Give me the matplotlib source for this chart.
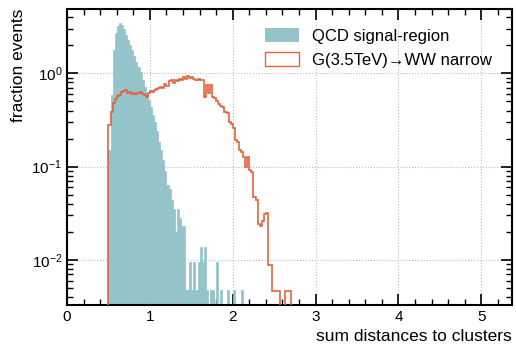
import numpy as np
import matplotlib.pyplot as plt
from matplotlib.patches import Patch

plt.rcParams['font.family'] = ['Liberation Sans', 'DejaVu Sans']
plt.rcParams['mathtext.default'] = 'regular'

# histogram binning (bin width 0.025, starting at 0.5)
bin_width = 0.025

# QCD signal-region, normalised bin contents
qcd_values = [
    0.15, 0.59, 1.8, 2.7, 3.2, 3.46, 3.3, 3.0, 2.6, 2.28,
    2.0, 1.78, 1.54, 1.33, 1.17, 1.04, 0.85, 0.72, 0.62, 0.52,
    0.44, 0.36, 0.30, 0.24, 0.185, 0.152, 0.119, 0.089, 0.063, 0.057,
    0.044, 0.035, 0.020, 0.035, 0.0285, 0.0234, 0.0234, 0.0048, 0.0048, 0.0094,
    0.0048, 0.0094, 0.0048, 0.0094, 0.0139, 0.0094, 0.0139, 0.0048, 0.0, 0.0048,
    0.0048, 0.0, 0.0094, 0.0, 0.0048, 0.0, 0.0, 0.0048, 0.0, 0.0,
    0.0048, 0.0, 0.0, 0.0, 0.0048,
]

# G(3.5TeV) -> WW narrow, normalised bin contents
sig_values = [
    0.28, 0.39, 0.48, 0.53, 0.575, 0.59, 0.63, 0.65, 0.665, 0.62,
    0.63, 0.60, 0.62, 0.60, 0.62, 0.63, 0.60, 0.59, 0.56, 0.62,
    0.65, 0.63, 0.665, 0.68, 0.70, 0.72, 0.70, 0.77, 0.74, 0.83,
    0.85, 0.79, 0.85, 0.83, 0.87, 0.85, 0.92, 0.87, 0.94, 0.90,
    0.92, 0.87, 0.85, 0.87, 0.85, 0.85, 0.56, 0.75, 0.62, 0.75,
    0.56, 0.55, 0.50, 0.47, 0.45, 0.44, 0.39, 0.38, 0.30, 0.29,
    0.26, 0.195, 0.185, 0.152, 0.145, 0.128, 0.10, 0.128, 0.093, 0.088,
    0.047, 0.044, 0.024, 0.023, 0.026, 0.031, 0.032, 0.0089, 0.0089, 0.0046,
    0.0046, 0.0046, 0.0046, 0.0, 0.0, 0.0046, 0.0046, 0.0046,
]

qcd_edges = 0.5 + bin_width * np.arange(len(qcd_values) + 1)
sig_edges = 0.5 + bin_width * np.arange(len(sig_values) + 1)

qcd_color = '#93c4c9'
sig_color = '#e4623c'
floor = 1e-4  # drawn baseline, below the visible y range

fig = plt.figure(figsize=(5.16, 3.48), dpi=100)
ax = fig.add_axes([0.130, 0.124, 0.862, 0.850])

# QCD bins as bars; a thin edge in the face colour closes the gaps
ax.bar(qcd_edges[:-1], np.array(qcd_values) - floor, width=bin_width,
       bottom=floor, align='edge', color=qcd_color, edgecolor=qcd_color,
       lw=0.5, zorder=2)
ax.stairs(np.maximum(sig_values, floor), sig_edges, baseline=floor,
          color=sig_color, lw=1.2, zorder=3)

ax.set_yscale('log')
ax.set_xlim(0, 5.37)
ax.set_ylim(3.3e-3, 4.9)

ax.set_xlabel('sum distances to clusters', fontsize=12.5, loc='right')
ax.set_ylabel('fraction events', fontsize=12.5, loc='top')

ax.set_xticks([0, 1, 2, 3, 4, 5])
ax.set_xticks(np.arange(0, 5.4, 0.2), minor=True)
ax.tick_params(which='both', direction='in', top=True, right=True, labelsize=11)
ax.tick_params(which='major', length=8, width=1.2)
ax.tick_params(which='minor', length=4, width=1.0)
for s in ax.spines.values():
    s.set_linewidth(1.5)

ax.grid(True, which='major', ls=':', color='#bbbbbb', lw=0.8, zorder=0)
ax.set_axisbelow(True)

handles = [
    Patch(facecolor=qcd_color, edgecolor='none', label='QCD signal-region'),
    Patch(facecolor='none', edgecolor=sig_color, lw=1.0,
          label='G(3.5TeV)\u2192WW narrow'),
]
ax.legend(handles=handles, loc='upper right', bbox_to_anchor=(0.970, 0.958),
          frameon=False, fontsize=12, handlelength=2.0, handleheight=0.9,
          borderaxespad=0, labelspacing=0.5)

fig.savefig('out.png', dpi=100)
